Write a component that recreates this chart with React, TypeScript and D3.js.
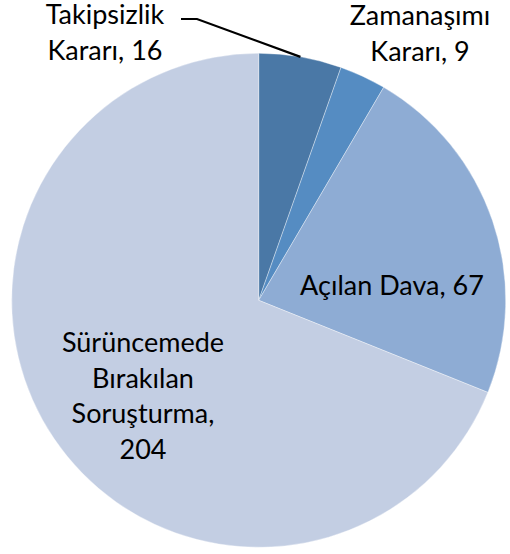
import React from "react";
import * as d3 from "d3";

const categories = ["Takipsizlik Kararı", "Zamanaşımı Kararı", "Açılan Dava", "Sürüncemede Bırakılan Soruşturma"];
const values = [16, 9, 67, 204];
const colors = ["#4a78a6", "#558cc2", "#8eacd4", "#c3cee3"];
const labelLines = [
  ["Takipsizlik", "Kararı, 16"],
  ["Zamanaşımı", "Kararı, 9"],
  ["Açılan Dava, 67"],
  ["Sürüncemede", "Bırakılan", "Soruşturma,", "204"],
];

const W = 510, H = 554;
const cx = 258.7, cy = 300.3, R = 247;
const FONT = "Lato, 'Open Sans', sans-serif";
const FS = 27;
const LH = 35.5;

// label anchor positions (center x, first baseline y)
const labelPos: [number, number][] = [
  [105, 24],
  [420, 25],
  [392, 295],
  [143, 352],
];

export default function App() {
  const pie = d3.pie<number>().sort(null).value((d) => d)(values);
  const arc = d3.arc<d3.PieArcDatum<number>>().innerRadius(0).outerRadius(R);
  const first = pie[0];
  const mid = (first.startAngle + first.endAngle) / 2;
  const ex = Math.sin(mid) * R;
  const ey = -Math.cos(mid) * R;
  const leader = d3.line()([
    [181 - cx, 19 - cy],
    [197 - cx, 19 - cy],
    [ex, ey],
  ]);
  return (
    <svg width={W} height={H} style={{ position: "absolute", left: 0, top: 0 }}>
      <rect width={W} height={H} fill="#ffffff" />
      <g transform={`translate(${cx},${cy})`}>
        {pie.map((p, i) => (
          <path key={categories[i]} d={arc(p) || ""} fill={colors[i]} stroke="#ffffff" strokeWidth={0.6} strokeOpacity={0.6} />
        ))}
        <path d={leader || ""} fill="none" stroke="#000" strokeWidth={2.2} />
      </g>
      {labelLines.map((lines, i) => (
        <text key={i} fontFamily={FONT} fontSize={FS} fill="#000" textAnchor="middle">
          {lines.map((l, j) => (
            <tspan key={j} x={labelPos[i][0]} y={labelPos[i][1] + j * LH}>
              {l}
            </tspan>
          ))}
        </text>
      ))}
    </svg>
  );
}
